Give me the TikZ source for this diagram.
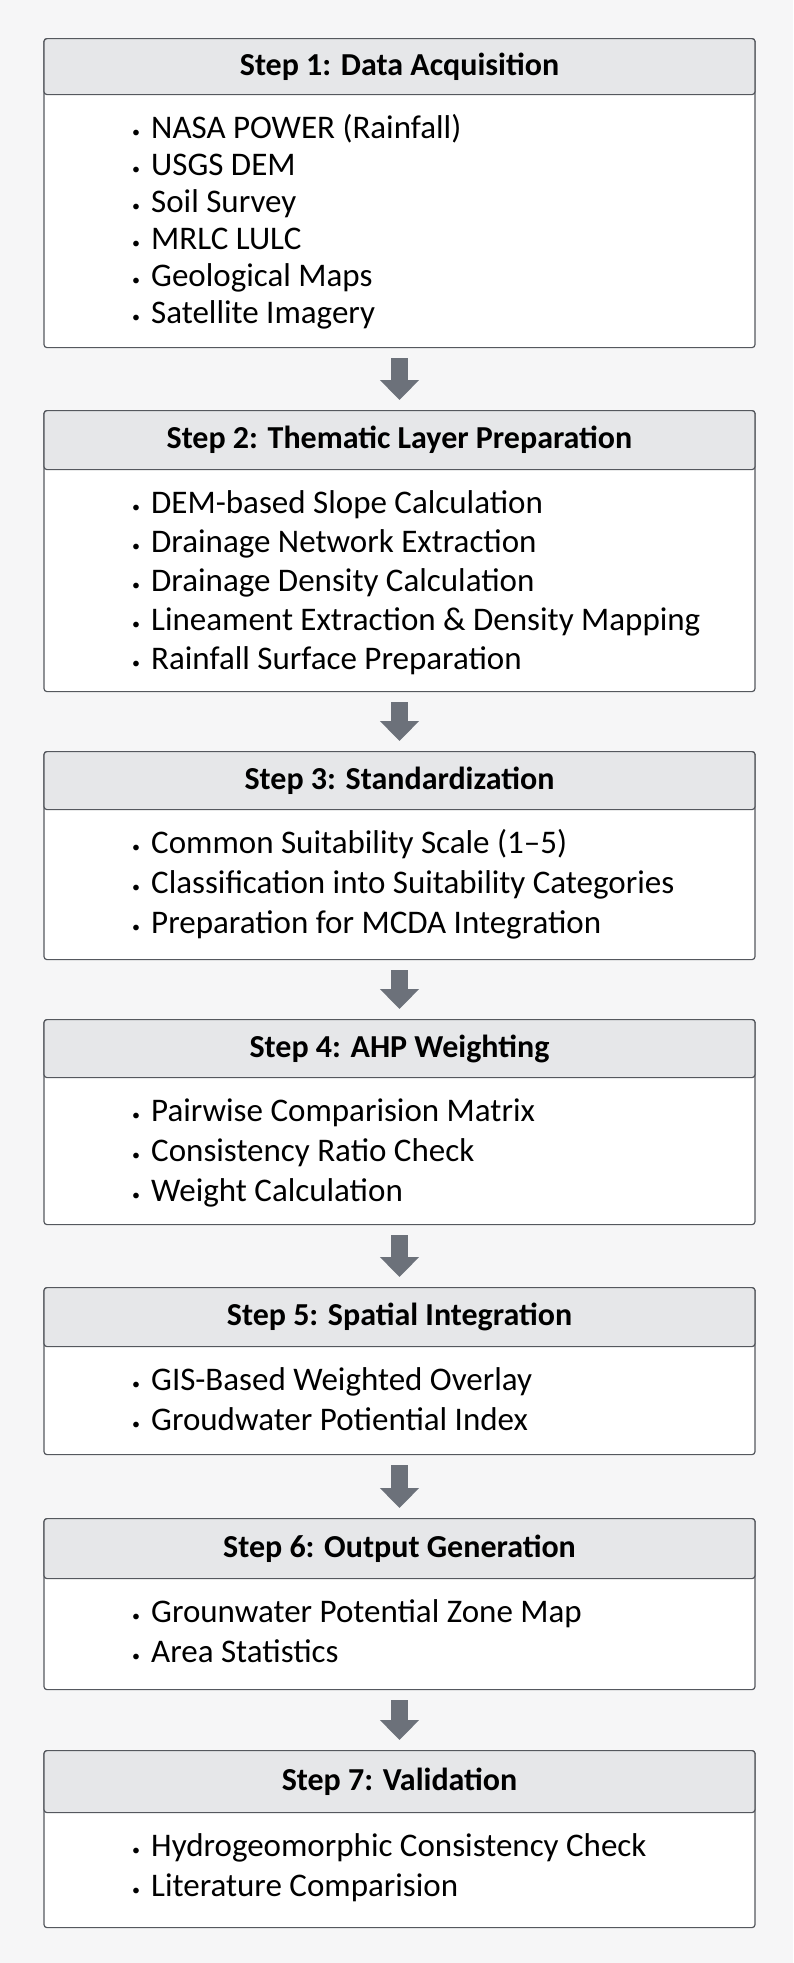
\documentclass[tikz,border=0pt]{standalone}
\usepackage{fontspec}
\setmainfont{Carlito}
\usetikzlibrary{arrows.meta}
\definecolor{edge}{RGB}{85, 88, 94}
\definecolor{head}{RGB}{230, 231, 233}
\definecolor{arrowgray}{RGB}{108, 113, 122}
\definecolor{paper}{RGB}{246, 246, 247}
\newcommand{\bul}{\makebox[19pt][l]{\raisebox{1pt}{\fontsize{16}{16}\selectfont\textbullet}}}

\begin{document}
\begin{tikzpicture}[
   x=1pt, y=-1pt,
   stepbox/.style={rectangle, draw=edge, fill=white, line width=1.2, rounded corners=3,
                   minimum width=711, inner sep=0, anchor=north},
   headbox/.style={rectangle, draw=edge, fill=head, line width=1.2, rounded corners=3,
                   minimum width=711, inner sep=0, anchor=north,
                   font=\fontsize{32}{36}\selectfont\bfseries},
   itemtext/.style={anchor=base west, inner sep=0, font=\fontsize{33}{38}\selectfont},
   flow/.style={-{Triangle[width=38pt, length=20pt]}, line width=17, color=arrowgray, shorten <=10, shorten >=10}
  ]

  \fill[paper] (0, 0) rectangle (793, 1963);
  \useasboundingbox (0, 0) rectangle (793, 1963);

  % Box geometry: number / top / header bottom / bottom
  \foreach \n/\top/\hb/\bot in {1/38/94/347, 2/410/469/691, 3/751/809/959,
      4/1019/1077/1224, 5/1287/1346/1454, 6/1518/1578/1689, 7/1750/1812/1927} {
    \pgfmathsetmacro{\hgt}{\bot-\top}
    \node (b\n) at (399.5, \top) [stepbox, minimum height=\hgt] {};
    \coordinate (t\n) at (132, {\hb+44});
  }

  \node (hd1) at (b1.north) [headbox, minimum height=56] {Step 1: Data Acquisition};
  \node (hd2) at (b2.north) [headbox, minimum height=59] {Step 2: Thematic Layer Preparation};
  \node (hd3) at (b3.north) [headbox, minimum height=58] {Step 3: Standardization};
  \node (hd4) at (b4.north) [headbox, minimum height=58] {Step 4: AHP Weighting};
  \node (hd5) at (b5.north) [headbox, minimum height=59] {Step 5: Spatial Integration};
  \node (hd6) at (b6.north) [headbox, minimum height=60] {Step 6: Output Generation};
  \node (hd7) at (b7.north) [headbox, minimum height=62] {Step 7: Validation};

  % Bullet lists
  \foreach \t [count=\i] in {NASA POWER (Rainfall), USGS DEM, Soil Survey, MRLC LULC,
      Geological Maps, Satellite Imagery}
    \node (a1\i) at ([yshift={-(\i-1)*37}]t1) [itemtext] {\bul\t};
  \foreach \t [count=\i] in {DEM-based Slope Calculation, Drainage Network Extraction,
      Drainage Density Calculation, Lineament Extraction \& Density Mapping,
      Rainfall Surface Preparation}
    \node (a2\i) at ([yshift={-(\i-1)*39}]t2) [itemtext] {\bul\t};
  \foreach \t [count=\i] in {Common Suitability Scale (1–5),
      Classification into Suitability Categories, Preparation for MCDA Integration}
    \node (a3\i) at ([yshift={-(\i-1)*40}]t3) [itemtext] {\bul\t};
  \foreach \t [count=\i] in {Pairwise Comparision Matrix, Consistency Ratio Check,
      Weight Calculation}
    \node (a4\i) at ([yshift={-(\i-1)*40}]t4) [itemtext] {\bul\t};
  \foreach \t [count=\i] in {GIS-Based Weighted Overlay, Groudwater Potiential Index}
    \node (a5\i) at ([yshift={-(\i-1)*40}]t5) [itemtext] {\bul\t};
  \foreach \t [count=\i] in {Grounwater Potential Zone Map, Area Statistics}
    \node (a6\i) at ([yshift={-(\i-1)*40}]t6) [itemtext] {\bul\t};
  \foreach \t [count=\i] in {Hydrogeomorphic Consistency Check, Literature Comparision}
    \node (a7\i) at ([yshift={-(\i-1)*40}]t7) [itemtext] {\bul\t};

  \foreach \B/\E in {b1/b2, b2/b3, b3/b4, b4/b5, b5/b6, b6/b7} {
    \draw[flow] (\B.south) -- (\E.north);
  }

\end{tikzpicture}
\end{document}
